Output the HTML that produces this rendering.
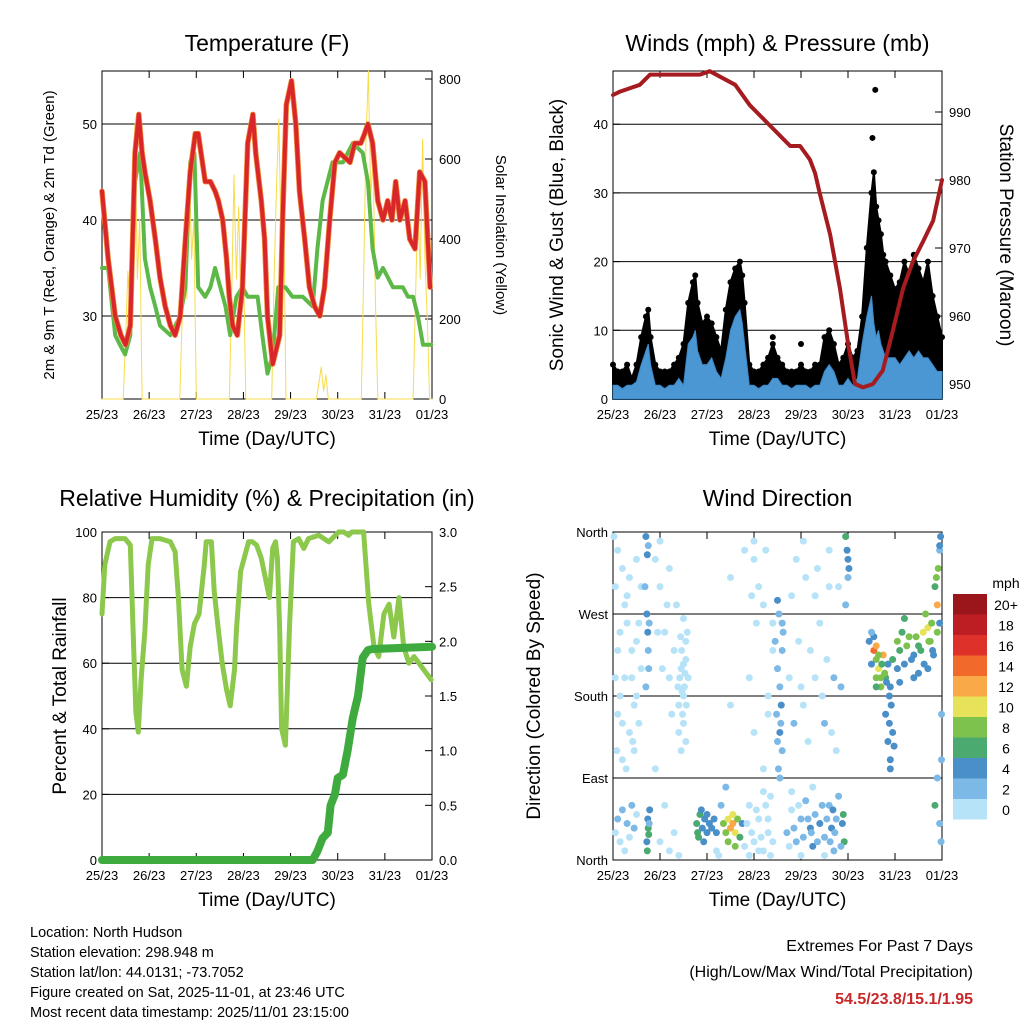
<!DOCTYPE html>
<html><head><meta charset="utf-8"><style>
body{margin:0;background:#fff}
svg{display:block;font-family:"Liberation Sans",sans-serif}
</style></head><body>
<svg id="c" width="1024" height="1024" viewBox="0 0 1024 1024"></svg>
<script>
// ---------- DATA ----------
const dayLabels=["25/23","26/23","27/23","28/23","29/23","30/23","31/23","01/23"];
const tempT=[0,0.13,0.28,0.4,0.5,0.6,0.7,0.78,0.85,0.91,1.02,1.13,1.23,1.34,1.45,1.55,1.66,1.77,1.87,1.98,2.04,2.19,2.3,2.4,2.47,2.56,2.64,2.7,2.77,2.87,2.98,3.09,3.2,3.26,3.38,3.45,3.51,3.62,3.77,3.83,3.91,4.02,4.11,4.19,4.3,4.4,4.51,4.62,4.72,4.83,4.94,5.04,5.26,5.36,5.49,5.57,5.64,5.74,5.85,5.96,6.06,6.15,6.23,6.32,6.43,6.53,6.64,6.74,6.85,6.96];
const tempRed=[43,36,30,28,27,29,47,51,47,45,42,38,34,31,29,28,30,38,45,49,49,44,44,43,42,40,36,32,29,28,33,48,51,47,42,38,30,25,28,40,52,54.5,50,43,38,33,31,30,33,40,46,47,46,48,48,49,50,48,42,40,42,40,44,40,42,38,37,45,44,33];
const dewT=[0,0.13,0.28,0.38,0.49,0.6,0.7,0.81,0.91,1.02,1.13,1.23,1.45,1.66,1.77,1.87,1.96,2.04,2.19,2.3,2.4,2.51,2.62,2.72,2.85,2.98,3.09,3.3,3.4,3.51,3.62,3.74,3.89,4.04,4.26,4.47,4.57,4.68,4.89,5.11,5.32,5.53,5.64,5.74,5.85,5.96,6.17,6.38,6.49,6.6,6.7,6.81,6.91,6.98];
const dewG=[35,35,28,27,26,28,44,47,36,33,31,29,28,30,33,46,47,33,32,33,35,33,31,28,32,33,32,32,28,24,26,33,33,32,32,31,37,42,46,46,48,47,44,37,34,35,33,33,32,32,30,27,27,27];
const solT=[0,0.45,0.5,0.55,0.6,0.65,0.7,0.75,0.8,0.85,1.65,1.7,1.75,1.8,1.85,1.9,1.95,2.0,2.7,2.75,2.8,2.85,2.9,2.95,3.0,3.05,3.6,3.65,3.7,3.75,3.8,3.85,3.9,4.55,4.6,4.65,4.7,4.75,4.8,5.5,5.55,5.6,5.65,5.7,5.75,5.8,5.85,6.6,6.65,6.7,6.75,6.8,6.85,6.9,6.95,7];
const solV=[0,0,150,320,200,520,690,300,450,0,0,200,420,250,600,350,450,0,0,250,560,300,480,200,350,0,0,300,520,700,400,550,0,0,40,80,20,60,0,0,300,650,820,500,600,250,0,0,250,500,300,650,350,200,0,0];
const windT=[0,0.1,0.2,0.3,0.4,0.5,0.6,0.7,0.75,0.8,0.9,1.0,1.1,1.2,1.3,1.4,1.5,1.6,1.7,1.75,1.8,1.9,2.0,2.1,2.2,2.3,2.4,2.5,2.6,2.7,2.75,2.8,2.9,3.0,3.1,3.2,3.3,3.4,3.5,3.6,3.7,3.8,3.9,4.0,4.1,4.2,4.3,4.4,4.5,4.6,4.7,4.8,4.9,5.0,5.1,5.2,5.3,5.4,5.5,5.55,5.6,5.65,5.7,5.75,5.8,5.9,6.0,6.1,6.2,6.3,6.4,6.5,6.6,6.7,6.8,6.9,7.0];
const windMean=[2,2,1.5,2,2,2.5,5,7,8,5,2,2,1.5,2,2,3,2,8,9,10,7,5,5,6,4,3,6,10,12,13,11,8,2,2,1.5,2,2,3,3,2,2,1.5,2,2,2,1.5,2,2,4,5,4,2,2,3,2,3,8,12,15,11,9,10,8,7,6,6,6,5,6,7,6,7,6,6,5,4,4];
const windGust=[5,4,4,5,3,5,9,12,13,9,5,4,4,4,5,6,8,14,17,18,14,11,12,11,9,7,13,17,19,20,18,14,5,4,4,5,6,8,6,5,4,4,4,5,4,4,5,5,9,10,8,5,6,8,6,7,12,22,30,33,28,26,24,21,20,18,16,17,20,18,21,19,17,20,15,12,9];
const gustOutT=[5.58,5.52,4.0,3.4];
const gustOutV=[45,38,8,9];
const presT=[0,0.15,0.57,0.79,1.43,1.85,2.06,2.6,2.91,3.34,3.77,3.98,4.19,4.3,4.4,4.62,4.83,5.0,5.15,5.32,5.53,5.74,5.96,6.17,6.38,6.6,6.81,7.0];
const presV=[992.5,993,994,995.5,995.5,995.5,996,994,991,988,985,985,983,981,978,972,964,956,950,949.5,950,952,958,964,968,971,974,980];
const rhT=[0,0.06,0.17,0.28,0.49,0.6,0.66,0.72,0.77,0.83,0.91,0.98,1.06,1.23,1.45,1.55,1.62,1.7,1.79,1.87,1.96,2.06,2.17,2.21,2.32,2.38,2.47,2.55,2.64,2.72,2.81,2.85,2.94,3.11,3.19,3.28,3.38,3.55,3.62,3.68,3.72,3.77,3.81,3.89,3.98,4.06,4.17,4.28,4.38,4.6,4.81,5.02,5.13,5.23,5.3,5.38,5.47,5.55,5.66,5.77,5.87,5.98,6.09,6.19,6.3,6.4,6.51,6.62,6.98];
const rhV=[75,90,97,98,98,96,70,45,39,55,70,90,98,98,97,94,80,58,53,65,72,75,90,97,97,82,70,60,52,47,58,70,88,97,97,96,92,80,95,97,92,70,40,35,72,97,98,95,98,99,97,100,100,99,100,100,100,100,78,65,62,75,78,68,80,65,60,62,55,52,60,82];
const prT=[0,4.47,4.57,4.68,4.79,4.85,4.94,5.0,5.11,5.21,5.32,5.43,5.53,5.64,5.74,7.0];
const prV=[0,0,0.08,0.2,0.25,0.5,0.6,0.75,0.78,1.0,1.3,1.5,1.85,1.92,1.93,1.95];
const wdTimeA=[0.05,0.1,0.15,0.2,0.3,0.35,0.4,0.45,0.25,0.5,0.02,0.1,0.2,0.05,0.3,0.15,0.4,0.25,0.5,0.1,0.35,0.45,0.55,0.6,0.2,0.5,0.72,0.75,0.74,0.78,0.76,0.73,0.77,0.75,0.74,0.76,0.73,0.75,1.0,1.0,1.1,1.2,1.3,1.4,1.45,1.5,1.55,1.5,1.6,1.45,1.2,1.35,1.55,1.1,1.3,1.4,1.78,1.8,1.85,1.9,1.95,2.0,2.05,2.1,2.15,2.2,1.82,1.88,2.0,1.93,2.35,2.4,2.45,2.5,2.55,2.6,2.65,2.7,2.75,2.45,2.55,2.6,2.5,2.5,2.8,2.9,3.0,3.1,3.2,3.3,3.35,3.2,3.0,3.3,3.4,3.1,3.0,3.45,3.5,3.55,3.6,3.55,3.6,3.5,3.7,3.8,3.9,4.0,4.1,4.2,4.25,4.3,4.4,4.5,4.6,4.65,4.7,4.75,3.85,4.0,4.2,4.4,4.5,4.6,4.7,3.9,4.1,4.3,4.95,4.98,5.0,5.02,5.0,4.95,4.9,4.92,5.55,5.6,5.6,5.65,5.7,5.75,5.8,5.85,5.9,5.5,5.45,5.8,5.85,5.9,5.88,5.95,6.05,6.1,6.2,6.3,6.4,6.5,6.6,6.65,6.7,6.75,6.8,6.85,6.88,6.9,6.2,6.5,6.95,6.97,6.95,6.98,6.9,6.85];
const wdDirA=[30,45,20,55,40,25,60,35,10,50,355,340,320,300,290,250,230,200,180,160,140,120,260,210,110,330,20,35,45,55,28,10,40,230,250,210,335,345,300,350,250,200,230,170,210,180,240,150,200,120,320,280,220,60,30,5,40,30,50,35,45,30,40,35,45,30,25,55,50,20,40,30,45,35,40,30,45,25,40,20,50,15,310,170,340,60,20,45,10,30,70,100,140,180,260,300,350,240,210,140,120,90,260,285,30,55,20,45,65,35,15,50,40,25,60,35,10,45,150,190,230,260,150,300,200,330,310,290,355,340,330,320,310,280,50,20,230,220,200,210,190,225,200,215,190,215,240,160,130,110,150,220,240,230,215,245,225,235,250,270,255,240,230,300,310,280,265,205,340,355,40,20,90,60];
const wdSpdA=[1,2,1,3,2,1,2,3,1,1,1,0,1,0,1,0,1,0,0,1,0,1,0,0,0,1,5,6,4,4,6,6,3,3,4,3,4,3,0,1,1,0,0,0,0,1,0,0,0,0,0,0,1,0,1,0,7,6,6,5,4,5,4,5,4,5,7,5,4,4,8,9,11,12,13,10,8,7,5,8,10,9,1,0,0,1,0,1,0,1,0,1,0,1,0,0,0,3,2,4,2,3,3,4,2,1,2,3,2,4,4,3,5,2,3,4,2,3,2,1,0,1,2,0,2,1,0,1,6,4,4,4,3,2,6,7,14,8,9,10,8,12,7,4,4,4,5,4,4,4,5,6,8,6,4,9,5,7,10,9,11,8,4,7,8,12,6,4,3,4,3,3,3,6];
const wdTimeB=[0.05,0.1,0.15,0.2,0.25,0.3,0.35,0.4,0.45,0.5,0.55,0.6,0.08,0.28,0.42,0.7,0.72,0.68,0.7,0.77,0.9,0.95,1.05,1.15,1.25,0.9,1.0,1.2,1.38,1.42,1.46,1.5,1.52,1.56,1.58,1.48,1.44,1.5,1.4,1.55,1.53,1.47,2.2,2.3,2.25,2.4,2.8,2.85,2.9,2.95,3.05,3.1,3.15,3.25,3.3,3.35,3.2,3.4,2.9,3.05,3.2,3.3,2.95,3.4,3.0,3.25,3.48,3.5,3.52,3.55,3.58,3.6,3.62,3.53,3.57,3.75,3.85,3.95,4.05,4.15,4.22,4.35,4.45,4.55,4.62,4.68,4.72,4.8,4.85,4.88,3.8,4.0,4.5,4.25,3.75,3.95,4.05,4.15,4.3,4.45,4.55,4.65,4.75,4.85,3.8,4.05,4.35,4.6,4.8,5.55,5.6,5.65,5.7,5.72,5.78,5.82,5.88,5.92,5.95,5.98,5.9,5.6,5.5,6.05,6.15,6.25,6.35,6.45,6.55,6.62,6.72,6.78,6.82,6.1,6.4,6.7,6.9,6.92,6.95,6.99,6.99,6.95];
const wdDirB=[200,230,180,150,280,260,310,200,170,240,150,300,120,100,130,190,270,300,355,260,330,250,210,280,160,100,20,10,190,200,230,215,190,170,250,160,245,265,140,130,205,185,10,60,5,80,15,40,5,30,55,10,25,60,45,5,75,20,200,260,280,160,290,230,330,340,160,130,100,190,170,230,250,270,150,15,35,60,25,45,30,20,60,45,20,55,30,70,15,40,75,5,5,80,200,240,170,130,200,180,220,140,120,190,290,350,320,340,300,245,235,225,200,215,205,195,180,170,140,125,100,190,250,210,250,235,220,245,230,215,240,260,225,195,200,210,250,320,260,160,110,345];
const wdSpdB=[0,0,1,0,0,1,0,0,1,0,0,0,0,0,0,3,4,3,4,2,0,1,0,0,0,0,1,0,0,0,0,0,0,0,0,0,1,0,0,0,1,0,1,2,0,2,0,1,0,0,1,0,1,0,0,0,1,0,0,0,0,0,0,0,0,0,3,3,2,3,4,2,2,3,3,1,2,1,2,3,3,2,3,2,3,4,3,2,3,4,1,0,1,1,0,1,1,1,1,1,1,1,1,2,0,0,0,0,1,5,13,9,8,7,9,5,4,4,4,4,5,6,3,4,7,8,4,8,6,5,9,8,4,4,4,4,9,9,4,3,3,4];
const wdTime=wdTimeA.concat(wdTimeB), wdDir=wdDirA.concat(wdDirB), wdSpd=wdSpdA.concat(wdSpdB);
const cbLabels=["20+","18","16","14","12","10","8","6","4","2","0"];
const cbColors=["#9b161b","#bd1e24","#de3129","#f26a2b","#f9a948","#e6e25a","#7cc24d","#4aaa6f","#4a8fc8","#7db9e6","#b7e3f8"];

// ---------- HELPERS ----------
const svg=document.getElementById('c');
const NS="http://www.w3.org/2000/svg";
function mk(tag,attrs,parent){const e=document.createElementNS(NS,tag);for(const k in attrs)e.setAttribute(k,attrs[k]);(parent||svg).appendChild(e);return e;}
function txt(x,y,s,size,anchor,name,extra){const t=mk('text',Object.assign({x:x,y:y,'font-size':size,'text-anchor':anchor||'middle',fill:'#000'},extra||{}));t.textContent=s;


return t;}
function poly(xs,ys,fx,fy,stroke,w,name){let d='';for(let i=0;i<xs.length;i++)d+=(i?'L':'M')+fx(xs[i]).toFixed(1)+','+fy(ys[i]).toFixed(1);const p=mk('path',{d:d,fill:'none',stroke:stroke,'stroke-width':w,'stroke-linejoin':'round','stroke-linecap':'round'});


return p;}
function panel(x0,x1,y0,y1,title,name,toff){
  const g=mk('rect',{x:x0,y:y0,width:x1-x0,height:y1-y0,fill:'none',stroke:'#000','stroke-width':1});
  
  
  txt((x0+x1)/2,y0-toff,title,23,'middle',name+'-title');
  const fx=t=>x0+(x1-x0)*t/7;
  for(let i=0;i<dayLabels.length;i++){const x=fx(i);
    mk('line',{x1:x,x2:x,y1:y1,y2:y1-7,stroke:'#000'});mk('line',{x1:x,x2:x,y1:y0,y2:y0+7,stroke:'#000'});
    txt(x,y1+20,dayLabels[i],13,'middle','x-tick-label');}
  txt((x0+x1)/2,y1+46,'Time (Day/UTC)',19,'middle',name+'-x-axis-title');
  return fx;}
function yTicks(x0,x1,vals,fy,labels,side,grid,name){
  for(let i=0;i<vals.length;i++){const y=fy(vals[i]);
    if(grid) mk('line',{x1:x0,x2:x1,y1:y,y2:y,stroke:'#000','stroke-width':1});
    if(side==='l'){mk('line',{x1:x0,x2:x0+7,y1:y,y2:y,stroke:'#000'});txt(x0-5,y+5,labels[i],13,'end',name);}
    else{mk('line',{x1:x1,x2:x1-7,y1:y,y2:y,stroke:'#000'});txt(x1+7,y+5,labels[i],13,'start',name);}}}

// ---------- PANEL 1 ----------
(function(){
  const x0=102,x1=432,y0=71,y1=399;
  const fx=panel(x0,x1,y0,y1,'Temperature (F)','temperature-panel',20);
  const fy=v=>316-(v-30)*9.6;
  const fs=v=>399-v*0.4;
  yTicks(x0,x1,[30,40,50],fy,['30','40','50'],'l',true,'temp-y-tick');
  yTicks(x0,x1,[0,200,400,600,800],fs,['0','200','400','600','800'],'r',false,'solar-y-tick');
  poly(solT,solV,fx,fs,'#f7dc4a',1,'solar-line');
  poly(dewT,dewG,fx,fy,'#5cb847',4,'dewpoint-line');
  poly(tempT,tempRed,fx,fy,'#f08a3a',5.5,'temp-9m-line');
  poly(tempT,tempRed,fx,fy,'#d9262a',4,'temp-2m-line');
  txt(0,0,'2m & 9m T (Red, Orange) & 2m Td (Green)',15,'middle','temp-y-axis-title',{transform:'translate(54,235) rotate(-90)'});
  txt(0,0,'Solar Insolation (Yellow)',15,'middle','solar-y-axis-title',{transform:'translate(496,235) rotate(90)'});
})();

// ---------- PANEL 2 ----------
(function(){
  const x0=613,x1=942,y0=71,y1=399;
  const fx=panel(x0,x1,y0,y1,'Winds (mph) & Pressure (mb)','winds-panel',20);
  const fy=v=>399-v*6.87;
  const fp=p=>384-(p-950)*6.8;
  yTicks(x0,x1,[0,10,20,30,40],fy,['0','10','20','30','40'],'l',true,'wind-y-tick');
  yTicks(x0,x1,[950,960,970,980,990],fp,['950','960','970','980','990'],'r',false,'pressure-y-tick');
  let gd='M'+fx(windT[0])+','+fy(0);
  for(let i=0;i<windT.length;i++)gd+='L'+fx(windT[i]).toFixed(1)+','+fy(windGust[i]).toFixed(1);
  gd+='L'+fx(windT[windT.length-1])+','+fy(0)+'Z';
  const ga=mk('path',{d:gd,fill:'#000',stroke:'#000','stroke-width':2,'stroke-linejoin':'round'});
  
  
  for(let i=0;i<windT.length;i++){
    const c=mk('circle',{cx:fx(windT[i]),cy:fy(windGust[i]),r:3,fill:'#000'});
    
    }
  for(let i=0;i<gustOutT.length;i++){
    const c=mk('circle',{cx:fx(gustOutT[i]),cy:fy(gustOutV[i]),r:3,fill:'#000'});
    
    }
  let d='M'+fx(windT[0])+','+fy(0);
  for(let i=0;i<windT.length;i++)d+='L'+fx(windT[i]).toFixed(1)+','+fy(windMean[i]).toFixed(1);
  d+='L'+fx(windT[windT.length-1])+','+fy(0)+'Z';
  const a=mk('path',{d:d,fill:'#4a97d3',stroke:'#3d88c8','stroke-width':1});
  
  
  poly(presT,presV,fx,fp,'#a51b1f',4,'pressure-line');
  txt(0,0,'Sonic Wind & Gust (Blue, Black)',19,'middle','wind-y-axis-title',{transform:'translate(563,235) rotate(-90)'});
  txt(0,0,'Station Pressure (Maroon)',19,'middle','pressure-y-axis-title',{transform:'translate(1000,235) rotate(90)'});
})();

// ---------- PANEL 3 ----------
(function(){
  const x0=102,x1=432,y0=532,y1=860;
  const fx=panel(x0,x1,y0,y1,'Relative Humidity (%) & Precipitation (in)','humidity-panel',26);
  const fy=v=>860-v*3.28;
  const fr=v=>860-v*109.33;
  yTicks(x0,x1,[0,20,40,60,80,100],fy,['0','20','40','60','80','100'],'l',true,'rh-y-tick');
  yTicks(x0,x1,[0,0.5,1,1.5,2,2.5,3],fr,['0.0','0.5','1.0','1.5','2.0','2.5','3.0'],'r',false,'precip-y-tick');
  poly(rhT,rhV,fx,fy,'#8cc84b',5,'rh-line');
  poly(prT,prV,fx,fr,'#3fab3f',8,'precip-line');
  txt(0,0,'Percent & Total Rainfall',19,'middle','rh-y-axis-title',{transform:'translate(66,696) rotate(-90)'});
})();

// ---------- PANEL 4 ----------
(function(){
  const x0=613,x1=942,y0=532,y1=860;
  const fx=panel(x0,x1,y0,y1,'Wind Direction','direction-panel',26);
  const fy=d=>860-d*328/360;
  yTicks(x0,x1,[0,90,180,270,360],fy,['North','East','South','West','North'],'l',true,'direction-y-tick');
  const col=s=>cbColors[10-Math.min(10,Math.floor(s/2))];
  for(let i=0;i<wdTime.length;i++){
    const c=mk('circle',{cx:fx(wdTime[i]),cy:fy(wdDir[i]),r:3.5,fill:col(wdSpd[i])});
    
    }
  txt(0,0,'Direction (Colored By Speed)',19,'middle','direction-y-axis-title',{transform:'translate(540,696) rotate(-90)'});
  txt(1006,588,'mph',14,'middle','colorbar-title');
  for(let i=0;i<cbColors.length;i++){const y=594+i*20.5;
    const r=mk('rect',{x:953,y:y,width:34,height:20.5,fill:cbColors[i]});
    
    
    txt(1006,y+16,cbLabels[i],14,'middle','colorbar-label');}
})();

// ---------- FOOTER ----------
const info=["Location: North Hudson","Station elevation: 298.948 m","Station lat/lon: 44.0131; -73.7052","Figure created on Sat, 2025-11-01, at 23:46 UTC","Most recent data timestamp: 2025/11/01 23:15:00"];
for(let i=0;i<info.length;i++) txt(30,937+i*20,info[i],14.5,'start','station-info-line');
txt(973,951,'Extremes For Past 7 Days',16,'end','extremes-title');
txt(973,977,'(High/Low/Max Wind/Total Precipitation)',16,'end','extremes-subtitle');
txt(973,1004,'54.5/23.8/15.1/1.95',16,'end','extremes-values',{fill:'#c8282a','font-weight':'bold'});
</script>
</body></html>
